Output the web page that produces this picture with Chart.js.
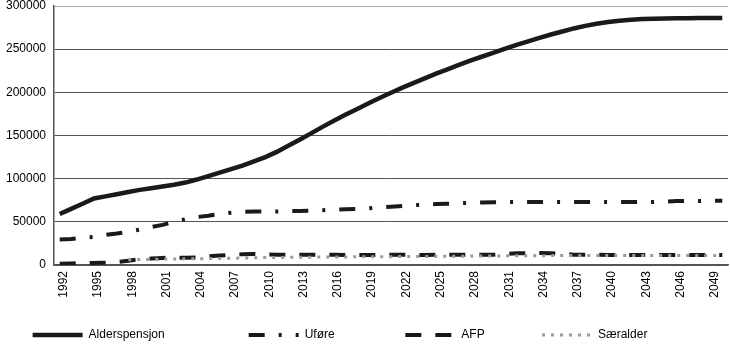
<!DOCTYPE html>
<html>
<head>
<meta charset="utf-8">
<script src="https://cdn.jsdelivr.net/npm/chart.js@4"></script>
<style>
  html, body { margin: 0; padding: 0; background: #fff; }
  #wrap { width: 730px; height: 346px; }
</style>
</head>
<body>
<div id="wrap"><canvas id="grafPensjon" width="730" height="346"></canvas></div>
<script>
const aar = [];
for (let a = 1992; a <= 2050; a++) aar.push(String(a));

const alderspensjon = [
  59000, 65000, 71000, 77000, 79500, 82000, 84500, 87000, 89000, 91000,
  93000, 95500, 99000, 103000, 107000, 111000, 115000, 120000, 125000, 131000,
  138000, 145000, 152500, 160000, 167000, 174000, 180500, 187000, 193500, 199500,
  205500, 211000, 216500, 222000, 227000, 232000, 237000, 241500, 246000, 250500,
  255000, 259000, 263000, 267000, 270500, 274000, 277000, 279500, 281500, 283000,
  284000, 284800, 285200, 285500, 285700, 285900, 286000, 286100, 286200
];

const ufore = [
  29500, 30000, 31500, 32500, 35000, 36500, 38500, 41000, 44000, 46500,
  50000, 53000, 55500, 57000, 59000, 60500, 61500, 62000, 62000, 62000,
  62300, 62600, 63000, 63500, 64000, 64500, 65000, 65600, 66500, 67500,
  68300, 69200, 70000, 70600, 71000, 71600, 72000, 72400, 72700, 73000,
  73000, 73000, 73000, 73000, 73000, 73000, 73000, 73000, 73000, 73000,
  73000, 73000, 73000, 73500, 74000, 74200, 74200, 74300, 74300
];

const afp = [
  1500, 1800, 2100, 2400, 2800, 3500, 5000, 6500, 7500, 8200,
  8500, 8500, 8600, 10000, 11000, 11800, 12500, 12700, 12200, 11900,
  11900, 11900, 11900, 11900, 11800, 11700, 11600, 11500, 11600, 11800,
  12000, 11800, 11600, 11800, 11900, 11900, 11900, 11900, 11900, 12800,
  13500, 13600, 13800, 13700, 12800, 12000, 11900, 11800, 11700, 11600,
  11600, 11500, 11500, 11500, 11500, 11500, 11500, 11500, 11500
];

const saeralder = [
  null, null, null, null, null, null, 6000, 6300, 6600, 6800,
  7000, 7100, 7200, 7400, 7600, 7800, 8100, 8300, 8600, 8700,
  8800, 9000, 9100, 9200, 9300, 9400, 9450, 9500, 9600, 9700,
  9800, 9900, 9950, 10000, 10100, 10200, 10300, 10400, 10500, 10600,
  10700, 10750, 10800, 10900, 10950, 11000, 11000, 11000, 11000, 11000,
  11000, 11000, 11000, 11000, 11000, 11000, 11000, 11000, 11000
];

const yTicks = [0, 50000, 100000, 150000, 200000, 250000, 300000];

// ekstra luft bak hver tekst i forklaringen (antall mellomrom)
const legendLuft = [18, 14, 10, 15];

const familie = "'Helvetica Neue', 'Helvetica', 'Arial', sans-serif";
const skrift = { family: familie, size: 12 };

// årstall under x-aksen, stående tekst, hvert tredje år
const aarstall = {
  id: 'aarstall',
  afterDraw(chart) {
    const sx = chart.scales.x;
    const ctx = chart.ctx;
    ctx.save();
    ctx.font = '12px ' + familie;
    ctx.fillStyle = '#000';
    ctx.textAlign = 'right';
    ctx.textBaseline = 'middle';
    aar.forEach((a, i) => {
      if (i % 3 !== 0) return;
      ctx.save();
      ctx.translate(sx.getPixelForTick(i) + 4, sx.top + 6);
      ctx.rotate(-Math.PI / 2);
      ctx.fillText(a, 0, 0);
      ctx.restore();
    });
    ctx.restore();
  }
};

new Chart(document.getElementById('grafPensjon'), {
  type: 'line',
  data: {
    labels: aar,
    datasets: [
      {
        label: 'Alderspensjon',
        data: alderspensjon,
        borderColor: '#1a1a1a',
        borderWidth: 4.5,
        order: 1
      },
      {
        label: 'Uføre',
        data: ufore,
        borderColor: '#1a1a1a',
        borderWidth: 4,
        borderDash: [16, 14, 3, 14],
        order: 2
      },
      {
        label: 'AFP',
        data: afp,
        borderColor: '#1a1a1a',
        borderWidth: 4,
        borderDash: [16, 14],
        order: 3
      },
      {
        label: 'Særalder',
        data: saeralder,
        borderColor: '#9a9a9a',
        borderWidth: 3,
        borderDash: [3, 6],
        order: 0
      }
    ]
  },
  plugins: [aarstall],
  options: {
    responsive: false,
    animation: false,
    layout: { padding: { left: 2, right: 2, top: 6, bottom: -5 } },
    elements: {
      point: { radius: 0 },
      line: { tension: 0, fill: false }
    },
    plugins: {
      tooltip: { enabled: false },
      legend: {
        position: 'bottom',
        labels: {
          usePointStyle: true,
          pointStyle: 'line',
          pointStyleWidth: 50,
          boxWidth: 50,
          boxHeight: 10,
          padding: 24,
          color: '#000',
          font: skrift,
          sort: (a, b) => a.datasetIndex - b.datasetIndex,
          generateLabels: chart => {
            const items = Chart.defaults.plugins.legend.labels.generateLabels(chart);
            items.forEach(it => {
              const ds = chart.data.datasets[it.datasetIndex];
              it.text = it.text + ' '.repeat(legendLuft[it.datasetIndex]);
              it.lineDash = ds.borderDash || [];
              it.lineWidth = ds.borderWidth;
              it.strokeStyle = ds.borderColor;
            });
            return items;
          }
        }
      }
    },
    scales: {
      x: {
        offset: true,
        grid: { display: false, drawTicks: false },
        border: { display: true, color: '#555', width: 1.5 },
        ticks: { display: false, autoSkip: false },
        afterFit: axis => {
          axis.height = 40;
          axis.paddingLeft = 0;
          axis.paddingRight = 0;
        }
      },
      y: {
        min: 0,
        max: 300000,
        afterBuildTicks: axis => {
          axis.ticks = yTicks.map(v => ({ value: v }));
        },
        afterFit: axis => {
          axis.width = 52;
          axis.paddingTop = 0;
          axis.paddingBottom = 0;
        },
        grid: {
          color: ctx => ctx.tick && ctx.tick.value === 300000 ? '#aaa' : '#555',
          lineWidth: 1,
          drawTicks: false
        },
        border: { display: true, color: '#555', width: 1.5 },
        ticks: {
          color: '#000',
          font: skrift,
          padding: 8,
          callback: v => String(v)
        }
      }
    }
  }
});
</script>
</body>
</html>
